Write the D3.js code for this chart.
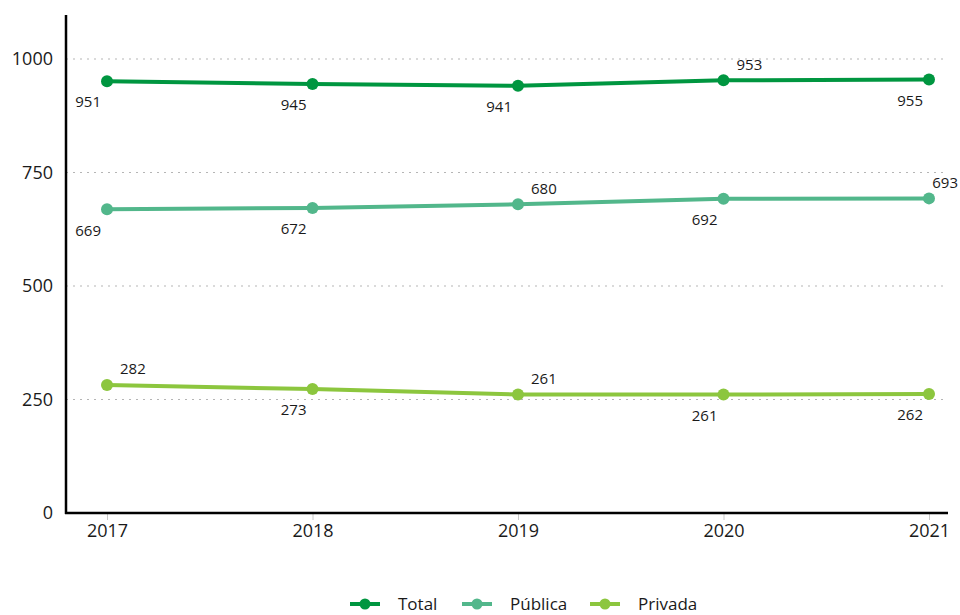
<!DOCTYPE html>
<html>
<head>
<meta charset="utf-8">
<script src="https://cdn.jsdelivr.net/npm/d3@7"></script>
<style>
  body { margin: 0; background: #fff; }
  text { font-family: "Open Sans", sans-serif; fill: #1a1a1a; }
</style>
</head>
<body>
<div id="chart"></div>
<script>
// data
var years = ["2017", "2018", "2019", "2020", "2021"];
var total = [951, 945, 941, 953, 955];
var publica = [669, 672, 680, 692, 693];
var privada = [282, 273, 261, 261, 262];
var yTicks = [0, 250, 500, 750, 1000];
// label placement per point: "b" = below-left, "a" = above-right
var totalPos = ["b", "b", "b", "a", "b"];
var publicaPos = ["b", "b", "a", "b", "a"];
var privadaPos = ["a", "b", "a", "b", "b"];

var series = [
    {name: "Total", values: total, pos: totalPos, color: "#009640"},
    {name: "Pública", values: publica, pos: publicaPos, color: "#52b78b"},
    {name: "Privada", values: privada, pos: privadaPos, color: "#8cc63e"}
];

var width = 960, height = 615;
var mLeft = 66, mRight = 948, mTop = 15, mBottom = 513;

var svg = d3.select("#chart").append("svg")
    .attr("width", width)
    .attr("height", height);

var x = d3.scalePoint().domain(years).range([107, 929]);
var y = d3.scaleLinear().domain([0, 1000]).range([mBottom, 59]);

// dotted gridlines
svg.append("g").selectAll("line")
    .data(yTicks.filter(function(d) { return d > 0; }))
    .enter().append("line")
    .attr("x1", mLeft).attr("x2", mRight)
    .attr("y1", function(d) { return y(d); })
    .attr("y2", function(d) { return y(d); })
    .style("stroke", "#b5b5b5")
    .style("stroke-width", 1)
    .style("stroke-dasharray", "2,5");

// y axis
var yAxis = svg.append("g")
    .attr("transform", "translate(" + mLeft + ",0)")
    .call(d3.axisLeft(y).tickValues(yTicks).tickSize(0).tickPadding(13).tickFormat(d3.format("d")));
yAxis.select(".domain").remove();
yAxis.selectAll("text").style("font-size", "18px").style("fill", "#1a1a1a");
svg.append("line")
    .attr("x1", mLeft).attr("x2", mLeft)
    .attr("y1", mTop).attr("y2", mBottom + 1)
    .style("stroke", "#000").style("stroke-width", 2.5);

// x axis
var xAxis = svg.append("g")
    .attr("transform", "translate(0," + mBottom + ")")
    .call(d3.axisBottom(x).tickSize(7).tickPadding(4));
xAxis.select(".domain").remove();
xAxis.selectAll("line").style("stroke", "#c8c8c8");
xAxis.selectAll("text").style("font-size", "18px").style("fill", "#1a1a1a");
svg.append("line")
    .attr("x1", mLeft - 1).attr("x2", mRight)
    .attr("y1", mBottom).attr("y2", mBottom)
    .style("stroke", "#000").style("stroke-width", 2.5);

var line = d3.line()
    .x(function(d, i) { return x(years[i]); })
    .y(function(d) { return y(d); });

series.forEach(function(s) {
    var g = svg.append("g");
    g.append("path")
        .datum(s.values)
        .attr("d", line)
        .style("fill", "none")
        .style("stroke", s.color)
        .style("stroke-width", 4);
    g.selectAll("circle")
        .data(s.values)
        .enter().append("circle")
        .attr("cx", function(d, i) { return x(years[i]); })
        .attr("cy", function(d) { return y(d); })
        .attr("r", 6)
        .style("fill", s.color);
    g.selectAll("text")
        .data(s.values)
        .enter().append("text")
        .attr("x", function(d, i) { return x(years[i]) + (s.pos[i] == "a" ? 13 : -6); })
        .attr("y", function(d, i) { return y(d) + (s.pos[i] == "a" ? -16 : 21); })
        .attr("dy", "0.35em")
        .style("text-anchor", function(d, i) { return s.pos[i] == "a" ? "start" : "end"; })
        .style("font-size", "15px")
        .text(function(d) { return d; })
        .each(function() {
            // keep labels inside the picture
            var w = this.getComputedTextLength();
            var x0 = +this.getAttribute("x");
            if (this.style.textAnchor == "start" && x0 + w > width - 2) {
                this.setAttribute("x", width - 2 - w);
            }
        });
});

// legend
var legend = svg.append("g")
    .selectAll("g")
    .data(series)
    .enter().append("g")
    .attr("transform", function(d, i) {
        var xs = [350, 462, 590];
        return "translate(" + xs[i] + ",604)";
    });
legend.append("line")
    .attr("x1", 0).attr("x2", 30)
    .style("stroke", function(d) { return d.color; })
    .style("stroke-width", 4);
legend.append("circle")
    .attr("cx", 15).attr("r", 5.5)
    .style("fill", function(d) { return d.color; });
legend.append("text")
    .attr("x", 48)
    .attr("dy", "0.35em")
    .style("font-size", "17px")
    .text(function(d) { return d.name; });
</script>
</body>
</html>
